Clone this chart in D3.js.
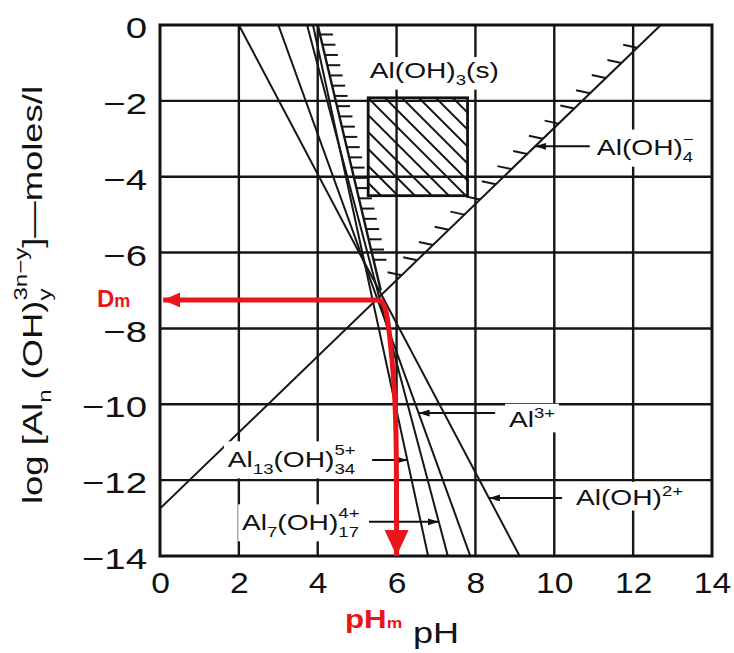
<!DOCTYPE html>
<html>
<head>
<meta charset="utf-8">
<script src="https://cdn.jsdelivr.net/npm/d3@7"></script>
<style>
  body { margin: 0; background: #fff; }
  svg { display: block; }
  text { font-family: "Liberation Sans", Arial, sans-serif; }
</style>
</head>
<body>
<div id="chart"></div>
<script>
// axis ticks
const xTicks = [0, 2, 4, 6, 8, 10, 12, 14];
const yTicks = [0, -2, -4, -6, -8, -10, -12, -14];

// species lines, [pH, log C] end points
const lineAlOH2 = [[2.0, 0], [9.12, -14]];
const lineAl3 = [[3.0, 0], [7.87, -14]];
const lineAl7 = [[3.73, 0], [7.3, -14]];
const lineAl13 = [[3.88, 0], [6.8, -14]];
const lineAlOH4 = [[0, -12.75], [12.7, 0]];
const speciesLines = [lineAlOH2, lineAl3, lineAl7, lineAl13, lineAlOH4];

// total solubility boundary (hatched side) and Al(OH)3(s) box
const totalLine = [[4.0, 0], [5.6, -7.0]];
const boxPH = [5.28, 7.8];
const boxLogC = [-1.92, -4.5];

// log C ranges carrying hatch ticks
const totalHatch = [-0.25, -6.4];
const alOH4Hatch = [-6.6, -0.3];

// red guide to the minimum solubility point
const redH = [[5.62, -7.25], [0.08, -7.25]];
const redV = [[5.55, -7.25], [5.72, -7.35], [5.82, -8.1], [5.95, -9.5], [6.0, -11], [6.0, -14]];

const W = 734, H = 653;
const margin = {top: 25, right: 22, bottom: 97, left: 160};

const svg = d3.select('#chart').append('svg')
    .attr('width', W).attr('height', H);
svg.append('rect').attr('width', W).attr('height', H).attr('fill', '#fff');

const x = d3.scaleLinear().domain([0, 14]).range([margin.left, W - margin.right]);
const y = d3.scaleLinear().domain([0, -14]).range([margin.top, H - margin.bottom]);

// pH on a straight segment at a given log C
const phAt = (seg, c) => {
  const [[x0, y0], [x1, y1]] = seg;
  return x0 + (c - y0) * (x1 - x0) / (y1 - y0);
};

const defs = svg.append('defs');
defs.append('clipPath').attr('id', 'clip').append('rect')
    .attr('x', x(0)).attr('y', y(0))
    .attr('width', x(14) - x(0)).attr('height', y(-14) - y(0));

defs.append('pattern').attr('id', 'hatch')
    .attr('patternUnits', 'userSpaceOnUse')
    .attr('width', 12).attr('height', 12)
    .attr('patternTransform', 'rotate(45)')
    .append('line')
    .attr('x1', 0).attr('y1', 1).attr('x2', 12).attr('y2', 1)
    .attr('stroke', '#111').attr('stroke-width', 2);

const mk = (id, len, wid, col) => {
  defs.append('marker').attr('id', id)
      .attr('markerUnits', 'userSpaceOnUse')
      .attr('viewBox', `0 0 ${len} ${wid}`)
      .attr('refX', len).attr('refY', wid / 2)
      .attr('markerWidth', len).attr('markerHeight', wid)
      .attr('orient', 'auto')
      .append('path')
      .attr('d', `M0,0L${len},${wid / 2}L0,${wid}Z`)
      .attr('fill', col);
};
mk('arrBlack', 11, 7, '#111');
mk('arrRedS', 17, 15, '#e8151b');
mk('arrRedL', 26, 24, '#e8151b');

// grid
const grid = svg.append('g').attr('stroke', '#151515').attr('stroke-width', 2.4);
grid.selectAll('.gx').data(xTicks.slice(1, -1)).enter().append('line')
    .attr('x1', d => x(d)).attr('x2', d => x(d))
    .attr('y1', y(0)).attr('y2', y(-14));
grid.selectAll('.gy').data(yTicks.slice(1, -1)).enter().append('line')
    .attr('y1', d => y(d)).attr('y2', d => y(d))
    .attr('x1', x(0)).attr('x2', x(14));

// axes
const xAxis = svg.append('g')
    .attr('transform', `translate(0,${y(-14)})`)
    .call(d3.axisBottom(x).tickValues(xTicks).tickSize(0).tickPadding(16));
const yAxis = svg.append('g')
    .attr('transform', `translate(${x(0)},0)`)
    .call(d3.axisLeft(y).tickValues(yTicks).tickSize(0).tickPadding(13));
[xAxis, yAxis].forEach(a => {
  a.select('.domain').remove();
  a.selectAll('text').attr('font-size', 30).attr('fill', '#111')
      .attr('font-family', '"Liberation Sans", Arial, sans-serif');
});
xAxis.selectAll('text').attr('transform', 'scale(1.12,1)');
yAxis.selectAll('text').attr('transform', 'scale(1.28,1)')
    .attr('x', -13 / 1.28).attr('dy', '0.42em');

// plot content
const area = svg.append('g').attr('clip-path', 'url(#clip)');
const line = d3.line().x(d => x(d[0])).y(d => y(d[1]));

area.selectAll('.species').data(speciesLines).enter().append('path')
    .attr('d', d => line(d))
    .attr('fill', 'none').attr('stroke', '#161616').attr('stroke-width', 2);

area.append('path').attr('d', line(totalLine))
    .attr('fill', 'none').attr('stroke', '#161616').attr('stroke-width', 2.4);

// hatch ticks on the solubility boundary
const tickCs = (r, step) => d3.range(r[0], r[1], step);
area.selectAll('.th').data(tickCs(totalHatch, -0.27)).enter().append('line')
    .attr('x1', c => x(phAt(totalLine, c))).attr('x2', c => x(phAt(totalLine, c)) + 13)
    .attr('y1', c => y(c)).attr('y2', c => y(c))
    .attr('stroke', '#161616').attr('stroke-width', 2);
area.selectAll('.ah').data(tickCs(alOH4Hatch, 0.4)).enter().append('line')
    .attr('x1', c => x(phAt(lineAlOH4, c))).attr('x2', c => x(phAt(lineAlOH4, c)) - 14)
    .attr('y1', c => y(c)).attr('y2', c => y(c) - 3)
    .attr('stroke', '#161616').attr('stroke-width', 2);

// Al(OH)3(s) box
area.append('rect')
    .attr('x', x(boxPH[0])).attr('y', y(boxLogC[0]))
    .attr('width', x(boxPH[1]) - x(boxPH[0]))
    .attr('height', y(boxLogC[1]) - y(boxLogC[0]))
    .attr('fill', 'url(#hatch)')
    .attr('stroke', '#111').attr('stroke-width', 2.8);

// border
svg.append('rect')
    .attr('x', x(0)).attr('y', y(0))
    .attr('width', x(14) - x(0)).attr('height', y(-14) - y(0))
    .attr('fill', 'none').attr('stroke', '#111').attr('stroke-width', 3);

// text with sub/superscripts; 'stack' sits above the preceding subscript
function rich(parent, transform, parts, size, opts = {}) {
  const g = parent.append('g').attr('transform', transform);
  const bg = opts.bg ? g.append('rect').attr('fill', '#fff') : null;
  const t = g.append('text')
      .attr('font-size', size)
      .attr('fill', opts.fill || '#111')
      .attr('font-weight', opts.weight || 'normal')
      .attr('text-anchor', opts.anchor || 'start');
  let shift = 0, lastW = 0, carry = 0;
  parts.forEach(([s, k]) => {
    const fs = k === 'n' ? size : size * 0.66;
    const target = k === 'sub' ? size * 0.32
        : k === 'stack' ? -size * 0.52
        : k === 'sup' ? -size * 0.42 : 0;
    const ts = t.append('tspan').text(s).attr('font-size', fs).attr('dy', target - shift);
    let dx = carry;
    if (k === 'stack') dx = -lastW;
    if (dx) ts.attr('dx', dx);
    const w = ts.node().getComputedTextLength();
    carry = (k === 'stack' && w < lastW) ? lastW - w : 0;
    shift = target;
    lastW = w;
  });
  if (bg) {
    const b = t.node().getBBox();
    bg.attr('x', b.x - 3).attr('y', b.y - 1).attr('width', b.width + 6).attr('height', b.height + 2);
  }
  return g;
}

const labels = svg.append('g');
const at = (ph, c, sx) => `translate(${x(ph)},${y(c)}) scale(${sx},1)`;

// leader arrows from labels to their lines
const leaders = [
  {c: -3.2, from: 10.9, seg: lineAlOH4},
  {c: -10.23, from: 8.5, seg: lineAl3},
  {c: -12.47, from: 10.2, seg: lineAlOH2},
  {c: -11.47, from: 5.38, seg: lineAl13},
  {c: -13.1, from: 5.3, seg: lineAl7}
];
labels.selectAll('.lead').data(leaders).enter().append('line')
    .attr('x1', d => x(d.from)).attr('y1', d => y(d.c))
    .attr('x2', d => x(phAt(d.seg, d.c))).attr('y2', d => y(d.c))
    .attr('stroke', '#111').attr('stroke-width', 2)
    .attr('marker-end', 'url(#arrBlack)');

rich(labels, at(5.32, -1.40, 1.28), [['Al(OH)', 'n'], ['3', 'sub'], ['(s)', 'n']], 22, {bg: true});
rich(labels, at(11.08, -3.43, 1.28), [['Al(OH)', 'n'], ['4', 'sub'], ['−', 'stack']], 22, {bg: true});
rich(labels, at(8.85, -10.6, 1.28), [['Al', 'n'], ['3+', 'sup']], 22, {bg: true});
rich(labels, at(10.55, -12.66, 1.28), [['Al(OH)', 'n'], ['2+', 'sup']], 22, {bg: true});
rich(labels, at(1.72, -11.65, 1.28),
     [['Al', 'n'], ['13', 'sub'], ['(OH)', 'n'], ['34', 'sub'], ['5+', 'stack']], 22, {bg: true});
rich(labels, at(2.08, -13.31, 1.28),
     [['Al', 'n'], ['7', 'sub'], ['(OH)', 'n'], ['17', 'sub'], ['4+', 'stack']], 22, {bg: true});

// red guide arrows
const red = '#e8151b';
svg.append('path').attr('d', line(redH))
    .attr('fill', 'none').attr('stroke', red).attr('stroke-width', 5)
    .attr('marker-end', 'url(#arrRedS)');
svg.append('path').attr('d', line.curve(d3.curveBasis)(redV))
    .attr('fill', 'none').attr('stroke', red).attr('stroke-width', 5)
    .attr('marker-end', 'url(#arrRedL)');
line.curve(d3.curveLinear);

rich(svg, `translate(97,307)`, [['D', 'n'], ['m', 'n']], 24, {fill: red, weight: 'bold'})
    .select('tspan:nth-child(2)').attr('font-size', 18);
rich(svg, `translate(345,628) scale(1.25,1)`, [['pH', 'n'], ['m', 'n']], 25, {fill: red, weight: 'bold'})
    .select('tspan:nth-child(2)').attr('font-size', 14);

// axis titles
rich(svg, `translate(413,643) scale(1.2,1)`, [['pH', 'n']], 30);
rich(svg, `translate(42,295) rotate(-90) scale(1.3,1)`,
     [['log [Al', 'n'], ['n', 'sub'], [' (OH)', 'n'], ['y', 'sub'], ['3n−y', 'stack'], [']—moles/l', 'n']],
     28, {anchor: 'middle'});
</script>
</body>
</html>
